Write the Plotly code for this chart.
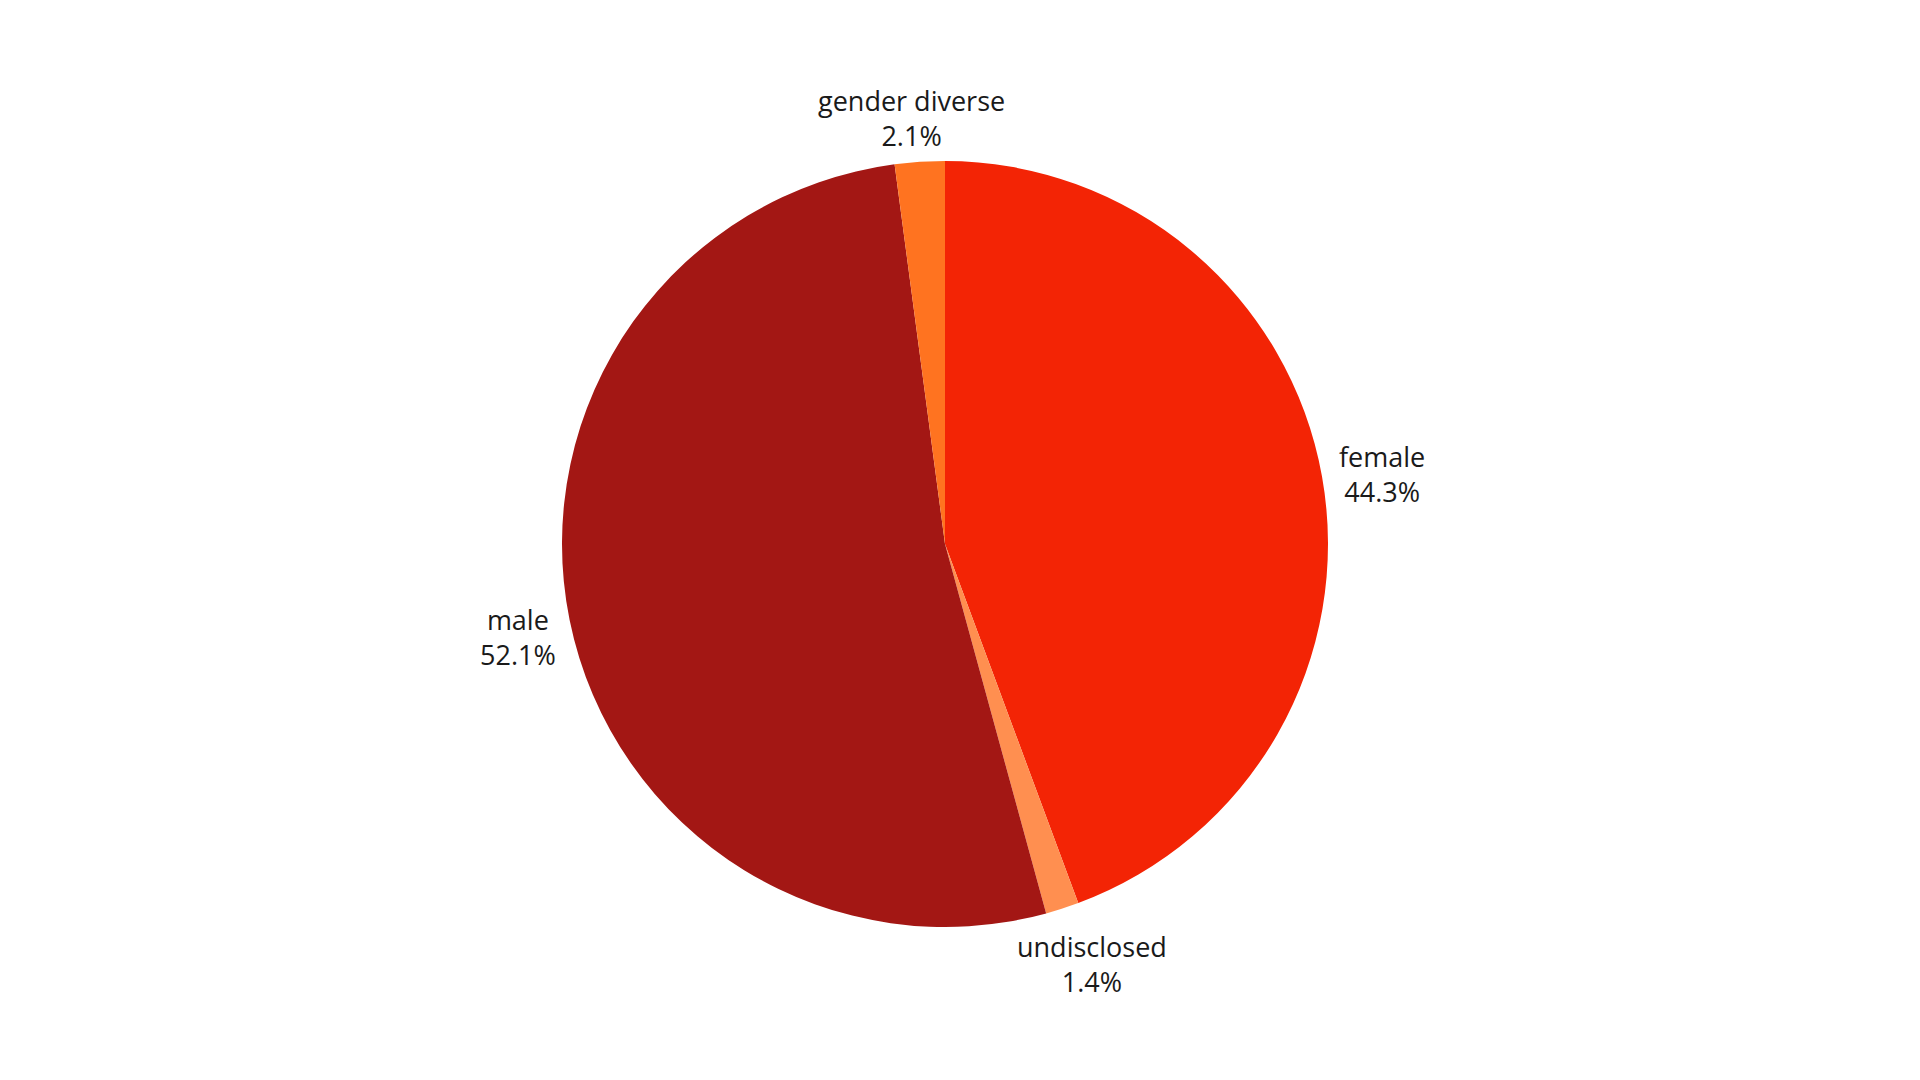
import math
import plotly.graph_objects as go

labels = ["female", "undisclosed", "male", "gender diverse"]
values = [44.3, 1.4, 52.1, 2.1]
colors = ["#F32405", "#FF8F50", "#A31714", "#FF7320"]

W, H = 1920, 1080
ML, MR, MT, MB = 0, 46, 153, 161
GAP = 16
LABEL_DY = -7          # small global downward nudge (px)
FSIZE = 27
CHAR_W = 0.55          # approx. average glyph width (em) for box estimate
LINE_H = 1.3
FONT = dict(family="Open Sans, Lato, sans-serif", size=FSIZE, color="#1a1a1a")

fig = go.Figure(go.Pie(
    labels=labels,
    values=values,
    sort=False,
    direction="clockwise",
    rotation=0,
    marker=dict(colors=colors, line=dict(width=0)),
    textinfo="none",
    hoverinfo="label+value",
    showlegend=False,
))

# label placement derived from the slice mid-angles
plot_w = W - ML - MR
plot_h = H - MT - MB
R = min(plot_w, plot_h) / 2
cx = ML + plot_w / 2
cy = MT + plot_h / 2
total = sum(values)
cum = 0.0
for lab, val in zip(labels, values):
    mid = (cum + val / 2) / total
    cum += val
    th = 2 * math.pi * mid
    s, c = math.sin(th), math.cos(th)
    px = cx + (R + GAP) * s
    py = cy - (R + GAP) * c
    lines = [lab, f"{val}%"]
    bw = max(len(t) for t in lines) * CHAR_W * FSIZE
    bh = len(lines) * LINE_H * FSIZE
    fig.add_annotation(
        x=(px - ML) / plot_w, y=(H - MB - py) / plot_h,
        xref="paper", yref="paper",
        text="<br>".join(lines),
        showarrow=False, xanchor="center", yanchor="middle",
        xshift=s * bw / 2, yshift=c * bh / 2 + LABEL_DY,
        font=FONT, align="center",
    )

fig.update_layout(
    width=W, height=H,
    margin=dict(l=ML, r=MR, t=MT, b=MB),
    paper_bgcolor="white",
    plot_bgcolor="white",
)
fig.write_html("out.html")
